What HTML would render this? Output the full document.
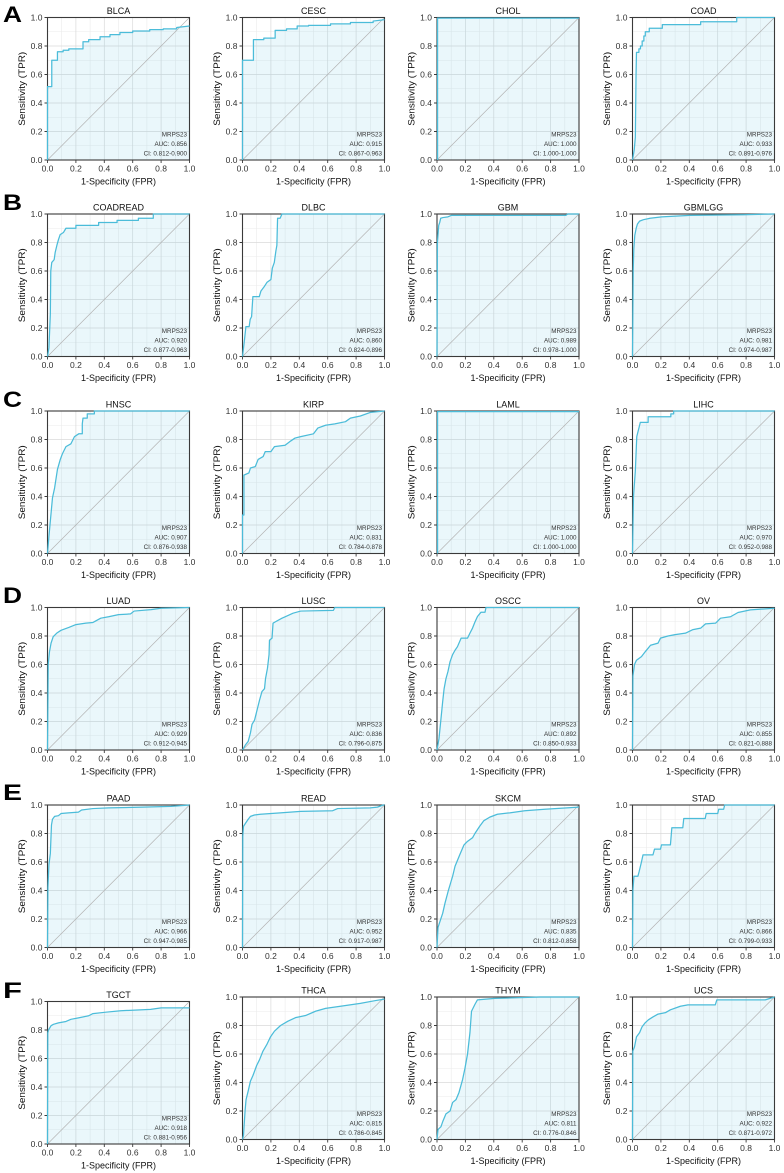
<!DOCTYPE html>
<html><head><meta charset="utf-8"><style>
html,body{margin:0;padding:0;background:#fff;}
svg{display:block;}
.t{font-family:"Liberation Sans",Arial,sans-serif;font-size:9px;fill:#111;}
.k{font-family:"Liberation Sans",Arial,sans-serif;font-size:8.5px;fill:#333;}
.a{font-family:"Liberation Sans",Arial,sans-serif;font-size:6.3px;fill:#333;text-anchor:end;}
.L{font-family:"Liberation Sans",Arial,sans-serif;font-size:22px;font-weight:bold;fill:#000;}
.f{fill:#5bc0de;fill-opacity:.13;stroke:none;}
.c{fill:none;stroke:#4bbcd9;stroke-width:1.25;stroke-linejoin:round;}
</style></head><body>
<svg width="784" height="1173" viewBox="0 0 784 1173" xmlns="http://www.w3.org/2000/svg">
<defs>
<g id="g">
<path d="M14.2,0V142.5M42.6,0V142.5M71,0V142.5M99.4,0V142.5M127.8,0V142.5M0,14.25H142M0,42.75H142M0,71.25H142M0,99.75H142M0,128.25H142" stroke="#ebebeb" stroke-width="0.6" fill="none"/>
<path d="M28.4,0V142.5M56.8,0V142.5M85.2,0V142.5M113.6,0V142.5M0,28.5H142M0,57H142M0,85.5H142M0,114H142" stroke="#dadada" stroke-width="0.7" fill="none"/>
</g>
<line id="d" x1="0" y1="142.5" x2="142" y2="0" stroke="#b3b3b3" stroke-width="0.7"/>
<g id="fr">
<rect x="0" y="0" width="142" height="142.5" fill="none" stroke="#3a3a3a" stroke-width="1.1"/>
<path d="M-3,0H0M-3,28.5H0M-3,57H0M-3,85.5H0M-3,114H0M-3,142.5H0M0,142.5V145.5M28.4,142.5V145.5M56.8,142.5V145.5M85.2,142.5V145.5M113.6,142.5V145.5M142,142.5V145.5" stroke="#3a3a3a" stroke-width="0.9" fill="none"/>
</g>
</defs>
<rect width="784" height="1173" fill="#fff"/>

<text class="L" x="3" y="22" textLength="19" lengthAdjust="spacingAndGlyphs">A</text>
<text class="L" x="3" y="210" textLength="19" lengthAdjust="spacingAndGlyphs">B</text>
<text class="L" x="3" y="407" textLength="19" lengthAdjust="spacingAndGlyphs">C</text>
<text class="L" x="3" y="603" textLength="19" lengthAdjust="spacingAndGlyphs">D</text>
<text class="L" x="3" y="800" textLength="19" lengthAdjust="spacingAndGlyphs">E</text>
<text class="L" x="3" y="998" textLength="19" lengthAdjust="spacingAndGlyphs">F</text>

<!-- ===== ROW A ===== -->
<g transform="translate(47.5,17.5)">
<use href="#g"/>
<g transform="translate(0,142.5) scale(142,-142.5)"><polygon class="f" points="0,0 0,0.515 0.03,0.515 0.03,0.70 0.07,0.70 0.07,0.76 0.11,0.76 0.11,0.77 0.15,0.77 0.15,0.78 0.25,0.78 0.25,0.83 0.29,0.83 0.29,0.845 0.37,0.845 0.37,0.865 0.44,0.865 0.44,0.88 0.51,0.88 0.51,0.895 0.6,0.895 0.6,0.905 0.72,0.905 0.72,0.915 0.815,0.915 0.815,0.92 0.91,0.92 0.91,0.93 1,0.94 1,0"/></g>
<use href="#d"/><use href="#fr"/>
<g transform="translate(0,142.5) scale(142,-142.5)"><polyline class="c" vector-effect="non-scaling-stroke" points="0,0 0,0.515 0.03,0.515 0.03,0.70 0.07,0.70 0.07,0.76 0.11,0.76 0.11,0.77 0.15,0.77 0.15,0.78 0.25,0.78 0.25,0.83 0.29,0.83 0.29,0.845 0.37,0.845 0.37,0.865 0.44,0.865 0.44,0.88 0.51,0.88 0.51,0.895 0.6,0.895 0.6,0.905 0.72,0.905 0.72,0.915 0.815,0.915 0.815,0.92 0.91,0.92 0.91,0.93 1,0.94"/></g>
<text class="t" x="71" y="-3.5" text-anchor="middle">BLCA</text>
<text class="k" text-anchor="end"><tspan x="-5" y="145.5">0.0</tspan><tspan x="-5" y="117">0.2</tspan><tspan x="-5" y="88.5">0.4</tspan><tspan x="-5" y="60">0.6</tspan><tspan x="-5" y="31.5">0.8</tspan><tspan x="-5" y="3">1.0</tspan></text>
<text class="k" text-anchor="middle" y="154"><tspan x="0">0.0</tspan><tspan x="28.4">0.2</tspan><tspan x="56.8">0.4</tspan><tspan x="85.2">0.6</tspan><tspan x="113.6">0.8</tspan><tspan x="142">1.0</tspan></text>
<text class="t" x="71" y="167" text-anchor="middle">1-Specificity (FPR)</text>
<text class="t" text-anchor="middle" transform="translate(-22.5,71.25) rotate(-90)" textLength="74" lengthAdjust="spacingAndGlyphs">Sensitivity (TPR)</text>
<text class="a" x="139.5" y="119.2">MRPS23</text><text class="a" x="139.5" y="128.5">AUC: 0.856</text><text class="a" x="139.5" y="137.9">CI: 0.812-0.900</text>
</g>

<g transform="translate(242.5,17.5)">
<use href="#g"/>
<g transform="translate(0,142.5) scale(142,-142.5)"><polygon class="f" points="0,0 0,0.70 0.077,0.70 0.077,0.845 0.15,0.845 0.15,0.855 0.23,0.855 0.23,0.91 0.31,0.91 0.31,0.92 0.385,0.92 0.385,0.94 0.465,0.94 0.465,0.945 0.62,0.945 0.62,0.955 0.76,0.955 0.76,0.965 0.92,0.965 0.92,0.975 1,0.985 1,0"/></g>
<use href="#d"/><use href="#fr"/>
<g transform="translate(0,142.5) scale(142,-142.5)"><polyline class="c" vector-effect="non-scaling-stroke" points="0,0 0,0.70 0.077,0.70 0.077,0.845 0.15,0.845 0.15,0.855 0.23,0.855 0.23,0.91 0.31,0.91 0.31,0.92 0.385,0.92 0.385,0.94 0.465,0.94 0.465,0.945 0.62,0.945 0.62,0.955 0.76,0.955 0.76,0.965 0.92,0.965 0.92,0.975 1,0.985"/></g>
<text class="t" x="71" y="-3.5" text-anchor="middle">CESC</text>
<text class="k" text-anchor="end"><tspan x="-5" y="145.5">0.0</tspan><tspan x="-5" y="117">0.2</tspan><tspan x="-5" y="88.5">0.4</tspan><tspan x="-5" y="60">0.6</tspan><tspan x="-5" y="31.5">0.8</tspan><tspan x="-5" y="3">1.0</tspan></text>
<text class="k" text-anchor="middle" y="154"><tspan x="0">0.0</tspan><tspan x="28.4">0.2</tspan><tspan x="56.8">0.4</tspan><tspan x="85.2">0.6</tspan><tspan x="113.6">0.8</tspan><tspan x="142">1.0</tspan></text>
<text class="t" x="71" y="167" text-anchor="middle">1-Specificity (FPR)</text>
<text class="t" text-anchor="middle" transform="translate(-22.5,71.25) rotate(-90)" textLength="74" lengthAdjust="spacingAndGlyphs">Sensitivity (TPR)</text>
<text class="a" x="139.5" y="119.2">MRPS23</text><text class="a" x="139.5" y="128.5">AUC: 0.915</text><text class="a" x="139.5" y="137.9">CI: 0.867-0.963</text>
</g>

<g transform="translate(437,17.5)">
<use href="#g"/>
<g transform="translate(0,142.5) scale(142,-142.5)"><polygon class="f" points="0,0 0,1 1,1 1,0"/></g>
<use href="#d"/><use href="#fr"/>
<g transform="translate(0,142.5) scale(142,-142.5)"><polyline class="c" vector-effect="non-scaling-stroke" points="0.004,0 0.004,0.996 1,0.996"/></g>
<text class="t" x="71" y="-3.5" text-anchor="middle">CHOL</text>
<text class="k" text-anchor="end"><tspan x="-5" y="145.5">0.0</tspan><tspan x="-5" y="117">0.2</tspan><tspan x="-5" y="88.5">0.4</tspan><tspan x="-5" y="60">0.6</tspan><tspan x="-5" y="31.5">0.8</tspan><tspan x="-5" y="3">1.0</tspan></text>
<text class="k" text-anchor="middle" y="154"><tspan x="0">0.0</tspan><tspan x="28.4">0.2</tspan><tspan x="56.8">0.4</tspan><tspan x="85.2">0.6</tspan><tspan x="113.6">0.8</tspan><tspan x="142">1.0</tspan></text>
<text class="t" x="71" y="167" text-anchor="middle">1-Specificity (FPR)</text>
<text class="t" text-anchor="middle" transform="translate(-22.5,71.25) rotate(-90)" textLength="74" lengthAdjust="spacingAndGlyphs">Sensitivity (TPR)</text>
<text class="a" x="139.5" y="119.2">MRPS23</text><text class="a" x="139.5" y="128.5">AUC: 1.000</text><text class="a" x="139.5" y="137.9">CI: 1.000-1.000</text>
</g>

<g transform="translate(632.5,17.5)">
<use href="#g"/>
<g transform="translate(0,142.5) scale(142,-142.5)"><polygon class="f" points="0,0 0.012,0.07 0.02,0.16 0.025,0.6 0.028,0.755 0.045,0.755 0.045,0.78 0.056,0.78 0.056,0.8 0.068,0.8 0.068,0.835 0.08,0.835 0.08,0.87 0.09,0.87 0.09,0.9 0.118,0.9 0.118,0.925 0.21,0.925 0.21,0.95 0.48,0.95 0.48,0.97 0.734,0.97 0.734,1 1,1 1,0"/></g>
<use href="#d"/><use href="#fr"/>
<g transform="translate(0,142.5) scale(142,-142.5)"><polyline class="c" vector-effect="non-scaling-stroke" points="0,0 0.012,0.07 0.02,0.16 0.025,0.6 0.028,0.755 0.045,0.755 0.045,0.78 0.056,0.78 0.056,0.8 0.068,0.8 0.068,0.835 0.08,0.835 0.08,0.87 0.09,0.87 0.09,0.9 0.118,0.9 0.118,0.925 0.21,0.925 0.21,0.95 0.48,0.95 0.48,0.97 0.734,0.97 0.734,1 1,1"/></g>
<text class="t" x="71" y="-3.5" text-anchor="middle">COAD</text>
<text class="k" text-anchor="end"><tspan x="-5" y="145.5">0.0</tspan><tspan x="-5" y="117">0.2</tspan><tspan x="-5" y="88.5">0.4</tspan><tspan x="-5" y="60">0.6</tspan><tspan x="-5" y="31.5">0.8</tspan><tspan x="-5" y="3">1.0</tspan></text>
<text class="k" text-anchor="middle" y="154"><tspan x="0">0.0</tspan><tspan x="28.4">0.2</tspan><tspan x="56.8">0.4</tspan><tspan x="85.2">0.6</tspan><tspan x="113.6">0.8</tspan><tspan x="142">1.0</tspan></text>
<text class="t" x="71" y="167" text-anchor="middle">1-Specificity (FPR)</text>
<text class="t" text-anchor="middle" transform="translate(-22.5,71.25) rotate(-90)" textLength="74" lengthAdjust="spacingAndGlyphs">Sensitivity (TPR)</text>
<text class="a" x="139.5" y="119.2">MRPS23</text><text class="a" x="139.5" y="128.5">AUC: 0.933</text><text class="a" x="139.5" y="137.9">CI: 0.891-0.976</text>
</g>

<!-- ===== ROW B ===== -->
<g transform="translate(47.5,214)">
<use href="#g"/>
<g transform="translate(0,142.5) scale(142,-142.5)"><polygon class="f" points="0,0 0.01,0.06 0.02,0.3 0.023,0.6 0.03,0.66 0.047,0.68 0.054,0.73 0.066,0.78 0.077,0.82 0.089,0.855 0.112,0.87 0.13,0.9 0.2,0.9 0.2,0.92 0.36,0.92 0.36,0.94 0.49,0.94 0.49,0.955 0.64,0.955 0.64,0.97 0.745,0.97 0.745,1 1,1 1,0"/></g>
<use href="#d"/><use href="#fr"/>
<g transform="translate(0,142.5) scale(142,-142.5)"><polyline class="c" vector-effect="non-scaling-stroke" points="0,0 0.01,0.06 0.02,0.3 0.023,0.6 0.03,0.66 0.047,0.68 0.054,0.73 0.066,0.78 0.077,0.82 0.089,0.855 0.112,0.87 0.13,0.9 0.2,0.9 0.2,0.92 0.36,0.92 0.36,0.94 0.49,0.94 0.49,0.955 0.64,0.955 0.64,0.97 0.745,0.97 0.745,1 1,1"/></g>
<text class="t" x="71" y="-3.5" text-anchor="middle">COADREAD</text>
<text class="k" text-anchor="end"><tspan x="-5" y="145.5">0.0</tspan><tspan x="-5" y="117">0.2</tspan><tspan x="-5" y="88.5">0.4</tspan><tspan x="-5" y="60">0.6</tspan><tspan x="-5" y="31.5">0.8</tspan><tspan x="-5" y="3">1.0</tspan></text>
<text class="k" text-anchor="middle" y="154"><tspan x="0">0.0</tspan><tspan x="28.4">0.2</tspan><tspan x="56.8">0.4</tspan><tspan x="85.2">0.6</tspan><tspan x="113.6">0.8</tspan><tspan x="142">1.0</tspan></text>
<text class="t" x="71" y="167" text-anchor="middle">1-Specificity (FPR)</text>
<text class="t" text-anchor="middle" transform="translate(-22.5,71.25) rotate(-90)" textLength="74" lengthAdjust="spacingAndGlyphs">Sensitivity (TPR)</text>
<text class="a" x="139.5" y="119.2">MRPS23</text><text class="a" x="139.5" y="128.5">AUC: 0.920</text><text class="a" x="139.5" y="137.9">CI: 0.877-0.963</text>
</g>

<g transform="translate(242.5,214)">
<use href="#g"/>
<g transform="translate(0,142.5) scale(142,-142.5)"><polygon class="f" points="0,0 0.012,0.1 0.024,0.21 0.047,0.21 0.054,0.26 0.064,0.28 0.073,0.42 0.118,0.42 0.13,0.46 0.153,0.49 0.172,0.52 0.2,0.54 0.21,0.62 0.224,0.66 0.235,0.74 0.242,0.78 0.247,0.97 0.265,0.97 0.278,1 1,1 1,0"/></g>
<use href="#d"/><use href="#fr"/>
<g transform="translate(0,142.5) scale(142,-142.5)"><polyline class="c" vector-effect="non-scaling-stroke" points="0,0 0.012,0.1 0.024,0.21 0.047,0.21 0.054,0.26 0.064,0.28 0.073,0.42 0.118,0.42 0.13,0.46 0.153,0.49 0.172,0.52 0.2,0.54 0.21,0.62 0.224,0.66 0.235,0.74 0.242,0.78 0.247,0.97 0.265,0.97 0.278,1 1,1"/></g>
<text class="t" x="71" y="-3.5" text-anchor="middle">DLBC</text>
<text class="k" text-anchor="end"><tspan x="-5" y="145.5">0.0</tspan><tspan x="-5" y="117">0.2</tspan><tspan x="-5" y="88.5">0.4</tspan><tspan x="-5" y="60">0.6</tspan><tspan x="-5" y="31.5">0.8</tspan><tspan x="-5" y="3">1.0</tspan></text>
<text class="k" text-anchor="middle" y="154"><tspan x="0">0.0</tspan><tspan x="28.4">0.2</tspan><tspan x="56.8">0.4</tspan><tspan x="85.2">0.6</tspan><tspan x="113.6">0.8</tspan><tspan x="142">1.0</tspan></text>
<text class="t" x="71" y="167" text-anchor="middle">1-Specificity (FPR)</text>
<text class="t" text-anchor="middle" transform="translate(-22.5,71.25) rotate(-90)" textLength="74" lengthAdjust="spacingAndGlyphs">Sensitivity (TPR)</text>
<text class="a" x="139.5" y="119.2">MRPS23</text><text class="a" x="139.5" y="128.5">AUC: 0.860</text><text class="a" x="139.5" y="137.9">CI: 0.824-0.896</text>
</g>

<g transform="translate(437,214)">
<use href="#g"/>
<g transform="translate(0,142.5) scale(142,-142.5)"><polygon class="f" points="0,0 0.003,0.8 0.012,0.92 0.019,0.94 0.026,0.97 0.042,0.975 0.077,0.98 0.1,0.99 0.907,0.99 0.92,1 1,1 1,0"/></g>
<use href="#d"/><use href="#fr"/>
<g transform="translate(0,142.5) scale(142,-142.5)"><polyline class="c" vector-effect="non-scaling-stroke" points="0,0 0.003,0.8 0.012,0.92 0.019,0.94 0.026,0.97 0.042,0.975 0.077,0.98 0.1,0.99 0.907,0.99 0.92,1 1,1"/></g>
<text class="t" x="71" y="-3.5" text-anchor="middle">GBM</text>
<text class="k" text-anchor="end"><tspan x="-5" y="145.5">0.0</tspan><tspan x="-5" y="117">0.2</tspan><tspan x="-5" y="88.5">0.4</tspan><tspan x="-5" y="60">0.6</tspan><tspan x="-5" y="31.5">0.8</tspan><tspan x="-5" y="3">1.0</tspan></text>
<text class="k" text-anchor="middle" y="154"><tspan x="0">0.0</tspan><tspan x="28.4">0.2</tspan><tspan x="56.8">0.4</tspan><tspan x="85.2">0.6</tspan><tspan x="113.6">0.8</tspan><tspan x="142">1.0</tspan></text>
<text class="t" x="71" y="167" text-anchor="middle">1-Specificity (FPR)</text>
<text class="t" text-anchor="middle" transform="translate(-22.5,71.25) rotate(-90)" textLength="74" lengthAdjust="spacingAndGlyphs">Sensitivity (TPR)</text>
<text class="a" x="139.5" y="119.2">MRPS23</text><text class="a" x="139.5" y="128.5">AUC: 0.989</text><text class="a" x="139.5" y="137.9">CI: 0.978-1.000</text>
</g>

<g transform="translate(632.5,214)">
<use href="#g"/>
<g transform="translate(0,142.5) scale(142,-142.5)"><polygon class="f" points="0,0 0.005,0.6 0.009,0.75 0.016,0.85 0.026,0.9 0.035,0.93 0.05,0.95 0.077,0.96 0.124,0.97 0.205,0.98 0.404,0.99 0.78,0.995 1,1 1,0"/></g>
<use href="#d"/><use href="#fr"/>
<g transform="translate(0,142.5) scale(142,-142.5)"><polyline class="c" vector-effect="non-scaling-stroke" points="0,0 0.005,0.6 0.009,0.75 0.016,0.85 0.026,0.9 0.035,0.93 0.05,0.95 0.077,0.96 0.124,0.97 0.205,0.98 0.404,0.99 0.78,0.995 1,1"/></g>
<text class="t" x="71" y="-3.5" text-anchor="middle">GBMLGG</text>
<text class="k" text-anchor="end"><tspan x="-5" y="145.5">0.0</tspan><tspan x="-5" y="117">0.2</tspan><tspan x="-5" y="88.5">0.4</tspan><tspan x="-5" y="60">0.6</tspan><tspan x="-5" y="31.5">0.8</tspan><tspan x="-5" y="3">1.0</tspan></text>
<text class="k" text-anchor="middle" y="154"><tspan x="0">0.0</tspan><tspan x="28.4">0.2</tspan><tspan x="56.8">0.4</tspan><tspan x="85.2">0.6</tspan><tspan x="113.6">0.8</tspan><tspan x="142">1.0</tspan></text>
<text class="t" x="71" y="167" text-anchor="middle">1-Specificity (FPR)</text>
<text class="t" text-anchor="middle" transform="translate(-22.5,71.25) rotate(-90)" textLength="74" lengthAdjust="spacingAndGlyphs">Sensitivity (TPR)</text>
<text class="a" x="139.5" y="119.2">MRPS23</text><text class="a" x="139.5" y="128.5">AUC: 0.981</text><text class="a" x="139.5" y="137.9">CI: 0.974-0.987</text>
</g>

<!-- ===== ROW C ===== -->
<g transform="translate(47.5,411)">
<use href="#g"/>
<g transform="translate(0,142.5) scale(142,-142.5)"><polygon class="f" points="0,0 0.01,0.12 0.035,0.39 0.05,0.46 0.07,0.59 0.09,0.66 0.105,0.70 0.13,0.75 0.165,0.77 0.19,0.82 0.22,0.84 0.245,0.84 0.245,0.91 0.25,0.95 0.28,0.95 0.28,0.98 0.33,0.98 0.33,1 1,1 1,0"/></g>
<use href="#d"/><use href="#fr"/>
<g transform="translate(0,142.5) scale(142,-142.5)"><polyline class="c" vector-effect="non-scaling-stroke" points="0,0 0.01,0.12 0.035,0.39 0.05,0.46 0.07,0.59 0.09,0.66 0.105,0.70 0.13,0.75 0.165,0.77 0.19,0.82 0.22,0.84 0.245,0.84 0.245,0.91 0.25,0.95 0.28,0.95 0.28,0.98 0.33,0.98 0.33,1 1,1"/></g>
<text class="t" x="71" y="-3.5" text-anchor="middle">HNSC</text>
<text class="k" text-anchor="end"><tspan x="-5" y="145.5">0.0</tspan><tspan x="-5" y="117">0.2</tspan><tspan x="-5" y="88.5">0.4</tspan><tspan x="-5" y="60">0.6</tspan><tspan x="-5" y="31.5">0.8</tspan><tspan x="-5" y="3">1.0</tspan></text>
<text class="k" text-anchor="middle" y="154"><tspan x="0">0.0</tspan><tspan x="28.4">0.2</tspan><tspan x="56.8">0.4</tspan><tspan x="85.2">0.6</tspan><tspan x="113.6">0.8</tspan><tspan x="142">1.0</tspan></text>
<text class="t" x="71" y="167" text-anchor="middle">1-Specificity (FPR)</text>
<text class="t" text-anchor="middle" transform="translate(-22.5,71.25) rotate(-90)" textLength="74" lengthAdjust="spacingAndGlyphs">Sensitivity (TPR)</text>
<text class="a" x="139.5" y="119.2">MRPS23</text><text class="a" x="139.5" y="128.5">AUC: 0.907</text><text class="a" x="139.5" y="137.9">CI: 0.876-0.938</text>
</g>

<g transform="translate(242.5,411)">
<use href="#g"/>
<g transform="translate(0,142.5) scale(142,-142.5)"><polygon class="f" points="0,0 0,0.27 0.01,0.27 0.01,0.55 0.045,0.565 0.056,0.6 0.09,0.61 0.11,0.66 0.145,0.68 0.16,0.715 0.2,0.715 0.225,0.75 0.3,0.76 0.34,0.79 0.37,0.81 0.41,0.82 0.5,0.84 0.53,0.88 0.585,0.9 0.65,0.91 0.725,0.925 0.76,0.95 0.83,0.965 0.9,0.99 1,1 1,0"/></g>
<use href="#d"/><use href="#fr"/>
<g transform="translate(0,142.5) scale(142,-142.5)"><polyline class="c" vector-effect="non-scaling-stroke" points="0,0 0,0.27 0.01,0.27 0.01,0.55 0.045,0.565 0.056,0.6 0.09,0.61 0.11,0.66 0.145,0.68 0.16,0.715 0.2,0.715 0.225,0.75 0.3,0.76 0.34,0.79 0.37,0.81 0.41,0.82 0.5,0.84 0.53,0.88 0.585,0.9 0.65,0.91 0.725,0.925 0.76,0.95 0.83,0.965 0.9,0.99 1,1"/></g>
<text class="t" x="71" y="-3.5" text-anchor="middle">KIRP</text>
<text class="k" text-anchor="end"><tspan x="-5" y="145.5">0.0</tspan><tspan x="-5" y="117">0.2</tspan><tspan x="-5" y="88.5">0.4</tspan><tspan x="-5" y="60">0.6</tspan><tspan x="-5" y="31.5">0.8</tspan><tspan x="-5" y="3">1.0</tspan></text>
<text class="k" text-anchor="middle" y="154"><tspan x="0">0.0</tspan><tspan x="28.4">0.2</tspan><tspan x="56.8">0.4</tspan><tspan x="85.2">0.6</tspan><tspan x="113.6">0.8</tspan><tspan x="142">1.0</tspan></text>
<text class="t" x="71" y="167" text-anchor="middle">1-Specificity (FPR)</text>
<text class="t" text-anchor="middle" transform="translate(-22.5,71.25) rotate(-90)" textLength="74" lengthAdjust="spacingAndGlyphs">Sensitivity (TPR)</text>
<text class="a" x="139.5" y="119.2">MRPS23</text><text class="a" x="139.5" y="128.5">AUC: 0.831</text><text class="a" x="139.5" y="137.9">CI: 0.784-0.878</text>
</g>

<g transform="translate(437,411)">
<use href="#g"/>
<g transform="translate(0,142.5) scale(142,-142.5)"><polygon class="f" points="0,0 0,1 1,1 1,0"/></g>
<use href="#d"/><use href="#fr"/>
<g transform="translate(0,142.5) scale(142,-142.5)"><polyline class="c" vector-effect="non-scaling-stroke" points="0.004,0 0.004,0.996 1,0.996"/></g>
<text class="t" x="71" y="-3.5" text-anchor="middle">LAML</text>
<text class="k" text-anchor="end"><tspan x="-5" y="145.5">0.0</tspan><tspan x="-5" y="117">0.2</tspan><tspan x="-5" y="88.5">0.4</tspan><tspan x="-5" y="60">0.6</tspan><tspan x="-5" y="31.5">0.8</tspan><tspan x="-5" y="3">1.0</tspan></text>
<text class="k" text-anchor="middle" y="154"><tspan x="0">0.0</tspan><tspan x="28.4">0.2</tspan><tspan x="56.8">0.4</tspan><tspan x="85.2">0.6</tspan><tspan x="113.6">0.8</tspan><tspan x="142">1.0</tspan></text>
<text class="t" x="71" y="167" text-anchor="middle">1-Specificity (FPR)</text>
<text class="t" text-anchor="middle" transform="translate(-22.5,71.25) rotate(-90)" textLength="74" lengthAdjust="spacingAndGlyphs">Sensitivity (TPR)</text>
<text class="a" x="139.5" y="119.2">MRPS23</text><text class="a" x="139.5" y="128.5">AUC: 1.000</text><text class="a" x="139.5" y="137.9">CI: 1.000-1.000</text>
</g>

<g transform="translate(632.5,411)">
<use href="#g"/>
<g transform="translate(0,142.5) scale(142,-142.5)"><polygon class="f" points="0,0 0.007,0.4 0.02,0.58 0.03,0.82 0.05,0.9 0.055,0.92 0.11,0.92 0.11,0.96 0.27,0.96 0.27,0.98 0.29,0.98 0.29,1 1,1 1,0"/></g>
<use href="#d"/><use href="#fr"/>
<g transform="translate(0,142.5) scale(142,-142.5)"><polyline class="c" vector-effect="non-scaling-stroke" points="0,0 0.007,0.4 0.02,0.58 0.03,0.82 0.05,0.9 0.055,0.92 0.11,0.92 0.11,0.96 0.27,0.96 0.27,0.98 0.29,0.98 0.29,1 1,1"/></g>
<text class="t" x="71" y="-3.5" text-anchor="middle">LIHC</text>
<text class="k" text-anchor="end"><tspan x="-5" y="145.5">0.0</tspan><tspan x="-5" y="117">0.2</tspan><tspan x="-5" y="88.5">0.4</tspan><tspan x="-5" y="60">0.6</tspan><tspan x="-5" y="31.5">0.8</tspan><tspan x="-5" y="3">1.0</tspan></text>
<text class="k" text-anchor="middle" y="154"><tspan x="0">0.0</tspan><tspan x="28.4">0.2</tspan><tspan x="56.8">0.4</tspan><tspan x="85.2">0.6</tspan><tspan x="113.6">0.8</tspan><tspan x="142">1.0</tspan></text>
<text class="t" x="71" y="167" text-anchor="middle">1-Specificity (FPR)</text>
<text class="t" text-anchor="middle" transform="translate(-22.5,71.25) rotate(-90)" textLength="74" lengthAdjust="spacingAndGlyphs">Sensitivity (TPR)</text>
<text class="a" x="139.5" y="119.2">MRPS23</text><text class="a" x="139.5" y="128.5">AUC: 0.970</text><text class="a" x="139.5" y="137.9">CI: 0.952-0.988</text>
</g>

<!-- ===== ROW D ===== -->
<g transform="translate(47.5,607.5)">
<use href="#g"/>
<g transform="translate(0,142.5) scale(142,-142.5)"><polygon class="f" points="0,0 0.005,0.6 0.014,0.69 0.025,0.75 0.04,0.795 0.065,0.82 0.095,0.84 0.15,0.86 0.2,0.88 0.27,0.89 0.32,0.895 0.375,0.925 0.43,0.935 0.5,0.95 0.585,0.955 0.61,0.975 0.73,0.985 0.8,0.995 1,1 1,0"/></g>
<use href="#d"/><use href="#fr"/>
<g transform="translate(0,142.5) scale(142,-142.5)"><polyline class="c" vector-effect="non-scaling-stroke" points="0,0 0.005,0.6 0.014,0.69 0.025,0.75 0.04,0.795 0.065,0.82 0.095,0.84 0.15,0.86 0.2,0.88 0.27,0.89 0.32,0.895 0.375,0.925 0.43,0.935 0.5,0.95 0.585,0.955 0.61,0.975 0.73,0.985 0.8,0.995 1,1"/></g>
<text class="t" x="71" y="-3.5" text-anchor="middle">LUAD</text>
<text class="k" text-anchor="end"><tspan x="-5" y="145.5">0.0</tspan><tspan x="-5" y="117">0.2</tspan><tspan x="-5" y="88.5">0.4</tspan><tspan x="-5" y="60">0.6</tspan><tspan x="-5" y="31.5">0.8</tspan><tspan x="-5" y="3">1.0</tspan></text>
<text class="k" text-anchor="middle" y="154"><tspan x="0">0.0</tspan><tspan x="28.4">0.2</tspan><tspan x="56.8">0.4</tspan><tspan x="85.2">0.6</tspan><tspan x="113.6">0.8</tspan><tspan x="142">1.0</tspan></text>
<text class="t" x="71" y="167" text-anchor="middle">1-Specificity (FPR)</text>
<text class="t" text-anchor="middle" transform="translate(-22.5,71.25) rotate(-90)" textLength="74" lengthAdjust="spacingAndGlyphs">Sensitivity (TPR)</text>
<text class="a" x="139.5" y="119.2">MRPS23</text><text class="a" x="139.5" y="128.5">AUC: 0.929</text><text class="a" x="139.5" y="137.9">CI: 0.912-0.945</text>
</g>

<g transform="translate(242.5,607.5)">
<use href="#g"/>
<g transform="translate(0,142.5) scale(142,-142.5)"><polygon class="f" points="0,0 0.02,0.035 0.04,0.06 0.056,0.12 0.067,0.18 0.085,0.21 0.1,0.27 0.12,0.35 0.137,0.41 0.155,0.43 0.162,0.5 0.176,0.575 0.187,0.67 0.19,0.77 0.208,0.785 0.215,0.89 0.232,0.9 0.278,0.925 0.3,0.935 0.356,0.96 0.41,0.975 0.64,0.98 0.65,1 1,1 1,0"/></g>
<use href="#d"/><use href="#fr"/>
<g transform="translate(0,142.5) scale(142,-142.5)"><polyline class="c" vector-effect="non-scaling-stroke" points="0,0 0.02,0.035 0.04,0.06 0.056,0.12 0.067,0.18 0.085,0.21 0.1,0.27 0.12,0.35 0.137,0.41 0.155,0.43 0.162,0.5 0.176,0.575 0.187,0.67 0.19,0.77 0.208,0.785 0.215,0.89 0.232,0.9 0.278,0.925 0.3,0.935 0.356,0.96 0.41,0.975 0.64,0.98 0.65,1 1,1"/></g>
<text class="t" x="71" y="-3.5" text-anchor="middle">LUSC</text>
<text class="k" text-anchor="end"><tspan x="-5" y="145.5">0.0</tspan><tspan x="-5" y="117">0.2</tspan><tspan x="-5" y="88.5">0.4</tspan><tspan x="-5" y="60">0.6</tspan><tspan x="-5" y="31.5">0.8</tspan><tspan x="-5" y="3">1.0</tspan></text>
<text class="k" text-anchor="middle" y="154"><tspan x="0">0.0</tspan><tspan x="28.4">0.2</tspan><tspan x="56.8">0.4</tspan><tspan x="85.2">0.6</tspan><tspan x="113.6">0.8</tspan><tspan x="142">1.0</tspan></text>
<text class="t" x="71" y="167" text-anchor="middle">1-Specificity (FPR)</text>
<text class="t" text-anchor="middle" transform="translate(-22.5,71.25) rotate(-90)" textLength="74" lengthAdjust="spacingAndGlyphs">Sensitivity (TPR)</text>
<text class="a" x="139.5" y="119.2">MRPS23</text><text class="a" x="139.5" y="128.5">AUC: 0.836</text><text class="a" x="139.5" y="137.9">CI: 0.796-0.875</text>
</g>

<g transform="translate(437,607.5)">
<use href="#g"/>
<g transform="translate(0,142.5) scale(142,-142.5)"><polygon class="f" points="0,0 0.014,0.08 0.028,0.22 0.04,0.34 0.05,0.43 0.063,0.5 0.077,0.55 0.092,0.62 0.11,0.67 0.127,0.70 0.144,0.725 0.17,0.785 0.215,0.785 0.232,0.82 0.25,0.855 0.268,0.9 0.285,0.937 0.31,0.967 0.338,0.967 0.345,1 1,1 1,0"/></g>
<use href="#d"/><use href="#fr"/>
<g transform="translate(0,142.5) scale(142,-142.5)"><polyline class="c" vector-effect="non-scaling-stroke" points="0,0 0.014,0.08 0.028,0.22 0.04,0.34 0.05,0.43 0.063,0.5 0.077,0.55 0.092,0.62 0.11,0.67 0.127,0.70 0.144,0.725 0.17,0.785 0.215,0.785 0.232,0.82 0.25,0.855 0.268,0.9 0.285,0.937 0.31,0.967 0.338,0.967 0.345,1 1,1"/></g>
<text class="t" x="71" y="-3.5" text-anchor="middle">OSCC</text>
<text class="k" text-anchor="end"><tspan x="-5" y="145.5">0.0</tspan><tspan x="-5" y="117">0.2</tspan><tspan x="-5" y="88.5">0.4</tspan><tspan x="-5" y="60">0.6</tspan><tspan x="-5" y="31.5">0.8</tspan><tspan x="-5" y="3">1.0</tspan></text>
<text class="k" text-anchor="middle" y="154"><tspan x="0">0.0</tspan><tspan x="28.4">0.2</tspan><tspan x="56.8">0.4</tspan><tspan x="85.2">0.6</tspan><tspan x="113.6">0.8</tspan><tspan x="142">1.0</tspan></text>
<text class="t" x="71" y="167" text-anchor="middle">1-Specificity (FPR)</text>
<text class="t" text-anchor="middle" transform="translate(-22.5,71.25) rotate(-90)" textLength="74" lengthAdjust="spacingAndGlyphs">Sensitivity (TPR)</text>
<text class="a" x="139.5" y="119.2">MRPS23</text><text class="a" x="139.5" y="128.5">AUC: 0.892</text><text class="a" x="139.5" y="137.9">CI: 0.850-0.933</text>
</g>

<g transform="translate(632.5,607.5)">
<use href="#g"/>
<g transform="translate(0,142.5) scale(142,-142.5)"><polygon class="f" points="0,0 0.003,0.52 0.014,0.6 0.028,0.63 0.063,0.655 0.09,0.69 0.127,0.735 0.18,0.75 0.197,0.785 0.25,0.8 0.3,0.81 0.373,0.82 0.426,0.845 0.48,0.855 0.514,0.885 0.585,0.89 0.62,0.925 0.69,0.935 0.743,0.965 0.83,0.983 1,0.995 1,0"/></g>
<use href="#d"/><use href="#fr"/>
<g transform="translate(0,142.5) scale(142,-142.5)"><polyline class="c" vector-effect="non-scaling-stroke" points="0,0 0.003,0.52 0.014,0.6 0.028,0.63 0.063,0.655 0.09,0.69 0.127,0.735 0.18,0.75 0.197,0.785 0.25,0.8 0.3,0.81 0.373,0.82 0.426,0.845 0.48,0.855 0.514,0.885 0.585,0.89 0.62,0.925 0.69,0.935 0.743,0.965 0.83,0.983 1,0.995"/></g>
<text class="t" x="71" y="-3.5" text-anchor="middle">OV</text>
<text class="k" text-anchor="end"><tspan x="-5" y="145.5">0.0</tspan><tspan x="-5" y="117">0.2</tspan><tspan x="-5" y="88.5">0.4</tspan><tspan x="-5" y="60">0.6</tspan><tspan x="-5" y="31.5">0.8</tspan><tspan x="-5" y="3">1.0</tspan></text>
<text class="k" text-anchor="middle" y="154"><tspan x="0">0.0</tspan><tspan x="28.4">0.2</tspan><tspan x="56.8">0.4</tspan><tspan x="85.2">0.6</tspan><tspan x="113.6">0.8</tspan><tspan x="142">1.0</tspan></text>
<text class="t" x="71" y="167" text-anchor="middle">1-Specificity (FPR)</text>
<text class="t" text-anchor="middle" transform="translate(-22.5,71.25) rotate(-90)" textLength="74" lengthAdjust="spacingAndGlyphs">Sensitivity (TPR)</text>
<text class="a" x="139.5" y="119.2">MRPS23</text><text class="a" x="139.5" y="128.5">AUC: 0.855</text><text class="a" x="139.5" y="137.9">CI: 0.821-0.888</text>
</g>

<!-- ===== ROW E ===== -->
<g transform="translate(47.5,805)">
<use href="#g"/>
<g transform="translate(0,142.5) scale(142,-142.5)"><polygon class="f" points="0,0 0.003,0.42 0.01,0.58 0.02,0.66 0.028,0.86 0.035,0.9 0.05,0.92 0.077,0.925 0.095,0.94 0.147,0.945 0.218,0.95 0.24,0.965 0.32,0.975 0.43,0.98 0.67,0.985 0.87,0.99 1,1 1,0"/></g>
<use href="#d"/><use href="#fr"/>
<g transform="translate(0,142.5) scale(142,-142.5)"><polyline class="c" vector-effect="non-scaling-stroke" points="0,0 0.003,0.42 0.01,0.58 0.02,0.66 0.028,0.86 0.035,0.9 0.05,0.92 0.077,0.925 0.095,0.94 0.147,0.945 0.218,0.95 0.24,0.965 0.32,0.975 0.43,0.98 0.67,0.985 0.87,0.99 1,1"/></g>
<text class="t" x="71" y="-3.5" text-anchor="middle">PAAD</text>
<text class="k" text-anchor="end"><tspan x="-5" y="145.5">0.0</tspan><tspan x="-5" y="117">0.2</tspan><tspan x="-5" y="88.5">0.4</tspan><tspan x="-5" y="60">0.6</tspan><tspan x="-5" y="31.5">0.8</tspan><tspan x="-5" y="3">1.0</tspan></text>
<text class="k" text-anchor="middle" y="154"><tspan x="0">0.0</tspan><tspan x="28.4">0.2</tspan><tspan x="56.8">0.4</tspan><tspan x="85.2">0.6</tspan><tspan x="113.6">0.8</tspan><tspan x="142">1.0</tspan></text>
<text class="t" x="71" y="167" text-anchor="middle">1-Specificity (FPR)</text>
<text class="t" text-anchor="middle" transform="translate(-22.5,71.25) rotate(-90)" textLength="74" lengthAdjust="spacingAndGlyphs">Sensitivity (TPR)</text>
<text class="a" x="139.5" y="119.2">MRPS23</text><text class="a" x="139.5" y="128.5">AUC: 0.966</text><text class="a" x="139.5" y="137.9">CI: 0.947-0.985</text>
</g>

<g transform="translate(242.5,805)">
<use href="#g"/>
<g transform="translate(0,142.5) scale(142,-142.5)"><polygon class="f" points="0,0 0.002,0.78 0.007,0.85 0.02,0.87 0.04,0.9 0.056,0.92 0.084,0.93 0.126,0.935 0.266,0.945 0.41,0.955 0.635,0.96 0.67,0.975 0.9,0.98 0.95,0.985 0.99,1 1,1 1,0"/></g>
<use href="#d"/><use href="#fr"/>
<g transform="translate(0,142.5) scale(142,-142.5)"><polyline class="c" vector-effect="non-scaling-stroke" points="0,0 0.002,0.78 0.007,0.85 0.02,0.87 0.04,0.9 0.056,0.92 0.084,0.93 0.126,0.935 0.266,0.945 0.41,0.955 0.635,0.96 0.67,0.975 0.9,0.98 0.95,0.985 0.99,1 1,1"/></g>
<text class="t" x="71" y="-3.5" text-anchor="middle">READ</text>
<text class="k" text-anchor="end"><tspan x="-5" y="145.5">0.0</tspan><tspan x="-5" y="117">0.2</tspan><tspan x="-5" y="88.5">0.4</tspan><tspan x="-5" y="60">0.6</tspan><tspan x="-5" y="31.5">0.8</tspan><tspan x="-5" y="3">1.0</tspan></text>
<text class="k" text-anchor="middle" y="154"><tspan x="0">0.0</tspan><tspan x="28.4">0.2</tspan><tspan x="56.8">0.4</tspan><tspan x="85.2">0.6</tspan><tspan x="113.6">0.8</tspan><tspan x="142">1.0</tspan></text>
<text class="t" x="71" y="167" text-anchor="middle">1-Specificity (FPR)</text>
<text class="t" text-anchor="middle" transform="translate(-22.5,71.25) rotate(-90)" textLength="74" lengthAdjust="spacingAndGlyphs">Sensitivity (TPR)</text>
<text class="a" x="139.5" y="119.2">MRPS23</text><text class="a" x="139.5" y="128.5">AUC: 0.952</text><text class="a" x="139.5" y="137.9">CI: 0.917-0.987</text>
</g>

<g transform="translate(437,805)">
<use href="#g"/>
<g transform="translate(0,142.5) scale(142,-142.5)"><polygon class="f" points="0,0 0.007,0.14 0.02,0.18 0.04,0.24 0.056,0.31 0.08,0.4 0.11,0.5 0.127,0.57 0.16,0.65 0.19,0.72 0.215,0.745 0.25,0.77 0.267,0.8 0.3,0.85 0.33,0.89 0.372,0.915 0.425,0.935 0.512,0.945 0.618,0.96 0.758,0.97 1,0.985 1,0"/></g>
<use href="#d"/><use href="#fr"/>
<g transform="translate(0,142.5) scale(142,-142.5)"><polyline class="c" vector-effect="non-scaling-stroke" points="0,0 0.007,0.14 0.02,0.18 0.04,0.24 0.056,0.31 0.08,0.4 0.11,0.5 0.127,0.57 0.16,0.65 0.19,0.72 0.215,0.745 0.25,0.77 0.267,0.8 0.3,0.85 0.33,0.89 0.372,0.915 0.425,0.935 0.512,0.945 0.618,0.96 0.758,0.97 1,0.985"/></g>
<text class="t" x="71" y="-3.5" text-anchor="middle">SKCM</text>
<text class="k" text-anchor="end"><tspan x="-5" y="145.5">0.0</tspan><tspan x="-5" y="117">0.2</tspan><tspan x="-5" y="88.5">0.4</tspan><tspan x="-5" y="60">0.6</tspan><tspan x="-5" y="31.5">0.8</tspan><tspan x="-5" y="3">1.0</tspan></text>
<text class="k" text-anchor="middle" y="154"><tspan x="0">0.0</tspan><tspan x="28.4">0.2</tspan><tspan x="56.8">0.4</tspan><tspan x="85.2">0.6</tspan><tspan x="113.6">0.8</tspan><tspan x="142">1.0</tspan></text>
<text class="t" x="71" y="167" text-anchor="middle">1-Specificity (FPR)</text>
<text class="t" text-anchor="middle" transform="translate(-22.5,71.25) rotate(-90)" textLength="74" lengthAdjust="spacingAndGlyphs">Sensitivity (TPR)</text>
<text class="a" x="139.5" y="119.2">MRPS23</text><text class="a" x="139.5" y="128.5">AUC: 0.835</text><text class="a" x="139.5" y="137.9">CI: 0.812-0.858</text>
</g>

<g transform="translate(632.5,805)">
<use href="#g"/>
<g transform="translate(0,142.5) scale(142,-142.5)"><polygon class="f" points="0,0 0.003,0.4 0.01,0.5 0.038,0.5 0.046,0.53 0.063,0.6 0.074,0.65 0.144,0.65 0.155,0.69 0.197,0.69 0.204,0.72 0.267,0.72 0.277,0.84 0.354,0.84 0.361,0.905 0.512,0.905 0.519,0.94 0.6,0.94 0.607,0.97 0.642,0.97 0.649,1 1,1 1,0"/></g>
<use href="#d"/><use href="#fr"/>
<g transform="translate(0,142.5) scale(142,-142.5)"><polyline class="c" vector-effect="non-scaling-stroke" points="0,0 0.003,0.4 0.01,0.5 0.038,0.5 0.046,0.53 0.063,0.6 0.074,0.65 0.144,0.65 0.155,0.69 0.197,0.69 0.204,0.72 0.267,0.72 0.277,0.84 0.354,0.84 0.361,0.905 0.512,0.905 0.519,0.94 0.6,0.94 0.607,0.97 0.642,0.97 0.649,1 1,1"/></g>
<text class="t" x="71" y="-3.5" text-anchor="middle">STAD</text>
<text class="k" text-anchor="end"><tspan x="-5" y="145.5">0.0</tspan><tspan x="-5" y="117">0.2</tspan><tspan x="-5" y="88.5">0.4</tspan><tspan x="-5" y="60">0.6</tspan><tspan x="-5" y="31.5">0.8</tspan><tspan x="-5" y="3">1.0</tspan></text>
<text class="k" text-anchor="middle" y="154"><tspan x="0">0.0</tspan><tspan x="28.4">0.2</tspan><tspan x="56.8">0.4</tspan><tspan x="85.2">0.6</tspan><tspan x="113.6">0.8</tspan><tspan x="142">1.0</tspan></text>
<text class="t" x="71" y="167" text-anchor="middle">1-Specificity (FPR)</text>
<text class="t" text-anchor="middle" transform="translate(-22.5,71.25) rotate(-90)" textLength="74" lengthAdjust="spacingAndGlyphs">Sensitivity (TPR)</text>
<text class="a" x="139.5" y="119.2">MRPS23</text><text class="a" x="139.5" y="128.5">AUC: 0.866</text><text class="a" x="139.5" y="137.9">CI: 0.799-0.933</text>
</g>

<!-- ===== ROW F ===== -->
<g transform="translate(47.5,1001.5)">
<use href="#g"/>
<g transform="translate(0,142.5) scale(142,-142.5)"><polygon class="f" points="0,0 0.002,0.78 0.007,0.8 0.025,0.83 0.042,0.84 0.077,0.85 0.13,0.86 0.165,0.875 0.218,0.885 0.29,0.9 0.32,0.915 0.41,0.925 0.516,0.935 0.726,0.945 0.8,0.955 1,0.955 1,0"/></g>
<use href="#d"/><use href="#fr"/>
<g transform="translate(0,142.5) scale(142,-142.5)"><polyline class="c" vector-effect="non-scaling-stroke" points="0,0 0.002,0.78 0.007,0.8 0.025,0.83 0.042,0.84 0.077,0.85 0.13,0.86 0.165,0.875 0.218,0.885 0.29,0.9 0.32,0.915 0.41,0.925 0.516,0.935 0.726,0.945 0.8,0.955 1,0.955"/></g>
<text class="t" x="71" y="-3.5" text-anchor="middle">TGCT</text>
<text class="k" text-anchor="end"><tspan x="-5" y="145.5">0.0</tspan><tspan x="-5" y="117">0.2</tspan><tspan x="-5" y="88.5">0.4</tspan><tspan x="-5" y="60">0.6</tspan><tspan x="-5" y="31.5">0.8</tspan><tspan x="-5" y="3">1.0</tspan></text>
<text class="k" text-anchor="middle" y="154"><tspan x="0">0.0</tspan><tspan x="28.4">0.2</tspan><tspan x="56.8">0.4</tspan><tspan x="85.2">0.6</tspan><tspan x="113.6">0.8</tspan><tspan x="142">1.0</tspan></text>
<text class="t" x="71" y="167" text-anchor="middle">1-Specificity (FPR)</text>
<text class="t" text-anchor="middle" transform="translate(-22.5,71.25) rotate(-90)" textLength="74" lengthAdjust="spacingAndGlyphs">Sensitivity (TPR)</text>
<text class="a" x="139.5" y="119.2">MRPS23</text><text class="a" x="139.5" y="128.5">AUC: 0.918</text><text class="a" x="139.5" y="137.9">CI: 0.881-0.956</text>
</g>

<g transform="translate(242.5,997)">
<use href="#g"/>
<g transform="translate(0,142.5) scale(142,-142.5)"><polygon class="f" points="0,0 0.007,0.03 0.018,0.2 0.025,0.28 0.04,0.34 0.056,0.41 0.074,0.45 0.1,0.52 0.12,0.56 0.144,0.62 0.173,0.67 0.197,0.72 0.225,0.76 0.268,0.8 0.32,0.83 0.373,0.855 0.444,0.87 0.514,0.9 0.585,0.92 0.69,0.935 0.83,0.955 0.937,0.975 1,0.985 1,0"/></g>
<use href="#d"/><use href="#fr"/>
<g transform="translate(0,142.5) scale(142,-142.5)"><polyline class="c" vector-effect="non-scaling-stroke" points="0,0 0.007,0.03 0.018,0.2 0.025,0.28 0.04,0.34 0.056,0.41 0.074,0.45 0.1,0.52 0.12,0.56 0.144,0.62 0.173,0.67 0.197,0.72 0.225,0.76 0.268,0.8 0.32,0.83 0.373,0.855 0.444,0.87 0.514,0.9 0.585,0.92 0.69,0.935 0.83,0.955 0.937,0.975 1,0.985"/></g>
<text class="t" x="71" y="-3.5" text-anchor="middle">THCA</text>
<text class="k" text-anchor="end"><tspan x="-5" y="145.5">0.0</tspan><tspan x="-5" y="117">0.2</tspan><tspan x="-5" y="88.5">0.4</tspan><tspan x="-5" y="60">0.6</tspan><tspan x="-5" y="31.5">0.8</tspan><tspan x="-5" y="3">1.0</tspan></text>
<text class="k" text-anchor="middle" y="154"><tspan x="0">0.0</tspan><tspan x="28.4">0.2</tspan><tspan x="56.8">0.4</tspan><tspan x="85.2">0.6</tspan><tspan x="113.6">0.8</tspan><tspan x="142">1.0</tspan></text>
<text class="t" x="71" y="167" text-anchor="middle">1-Specificity (FPR)</text>
<text class="t" text-anchor="middle" transform="translate(-22.5,71.25) rotate(-90)" textLength="74" lengthAdjust="spacingAndGlyphs">Sensitivity (TPR)</text>
<text class="a" x="139.5" y="119.2">MRPS23</text><text class="a" x="139.5" y="128.5">AUC: 0.815</text><text class="a" x="139.5" y="137.9">CI: 0.786-0.845</text>
</g>

<g transform="translate(437,997)">
<use href="#g"/>
<g transform="translate(0,142.5) scale(142,-142.5)"><polygon class="f" points="0,0 0.007,0.07 0.028,0.09 0.042,0.13 0.063,0.18 0.092,0.2 0.11,0.26 0.134,0.28 0.155,0.33 0.18,0.42 0.197,0.5 0.215,0.6 0.232,0.75 0.243,0.9 0.268,0.95 0.285,0.98 0.408,0.99 0.725,1 1,1 1,0"/></g>
<use href="#d"/><use href="#fr"/>
<g transform="translate(0,142.5) scale(142,-142.5)"><polyline class="c" vector-effect="non-scaling-stroke" points="0,0 0.007,0.07 0.028,0.09 0.042,0.13 0.063,0.18 0.092,0.2 0.11,0.26 0.134,0.28 0.155,0.33 0.18,0.42 0.197,0.5 0.215,0.6 0.232,0.75 0.243,0.9 0.268,0.95 0.285,0.98 0.408,0.99 0.725,1 1,1"/></g>
<text class="t" x="71" y="-3.5" text-anchor="middle">THYM</text>
<text class="k" text-anchor="end"><tspan x="-5" y="145.5">0.0</tspan><tspan x="-5" y="117">0.2</tspan><tspan x="-5" y="88.5">0.4</tspan><tspan x="-5" y="60">0.6</tspan><tspan x="-5" y="31.5">0.8</tspan><tspan x="-5" y="3">1.0</tspan></text>
<text class="k" text-anchor="middle" y="154"><tspan x="0">0.0</tspan><tspan x="28.4">0.2</tspan><tspan x="56.8">0.4</tspan><tspan x="85.2">0.6</tspan><tspan x="113.6">0.8</tspan><tspan x="142">1.0</tspan></text>
<text class="t" x="71" y="167" text-anchor="middle">1-Specificity (FPR)</text>
<text class="t" text-anchor="middle" transform="translate(-22.5,71.25) rotate(-90)" textLength="74" lengthAdjust="spacingAndGlyphs">Sensitivity (TPR)</text>
<text class="a" x="139.5" y="119.2">MRPS23</text><text class="a" x="139.5" y="128.5">AUC: 0.811</text><text class="a" x="139.5" y="137.9">CI: 0.776-0.846</text>
</g>

<g transform="translate(632.5,997)">
<use href="#g"/>
<g transform="translate(0,142.5) scale(142,-142.5)"><polygon class="f" points="0,0 0.002,0.62 0.014,0.65 0.028,0.72 0.05,0.75 0.067,0.79 0.09,0.82 0.112,0.84 0.144,0.86 0.18,0.88 0.232,0.89 0.267,0.91 0.337,0.935 0.39,0.945 0.583,0.945 0.594,0.98 0.935,0.98 1,1 1,0"/></g>
<use href="#d"/><use href="#fr"/>
<g transform="translate(0,142.5) scale(142,-142.5)"><polyline class="c" vector-effect="non-scaling-stroke" points="0,0 0.002,0.62 0.014,0.65 0.028,0.72 0.05,0.75 0.067,0.79 0.09,0.82 0.112,0.84 0.144,0.86 0.18,0.88 0.232,0.89 0.267,0.91 0.337,0.935 0.39,0.945 0.583,0.945 0.594,0.98 0.935,0.98 1,1"/></g>
<text class="t" x="71" y="-3.5" text-anchor="middle">UCS</text>
<text class="k" text-anchor="end"><tspan x="-5" y="145.5">0.0</tspan><tspan x="-5" y="117">0.2</tspan><tspan x="-5" y="88.5">0.4</tspan><tspan x="-5" y="60">0.6</tspan><tspan x="-5" y="31.5">0.8</tspan><tspan x="-5" y="3">1.0</tspan></text>
<text class="k" text-anchor="middle" y="154"><tspan x="0">0.0</tspan><tspan x="28.4">0.2</tspan><tspan x="56.8">0.4</tspan><tspan x="85.2">0.6</tspan><tspan x="113.6">0.8</tspan><tspan x="142">1.0</tspan></text>
<text class="t" x="71" y="167" text-anchor="middle">1-Specificity (FPR)</text>
<text class="t" text-anchor="middle" transform="translate(-22.5,71.25) rotate(-90)" textLength="74" lengthAdjust="spacingAndGlyphs">Sensitivity (TPR)</text>
<text class="a" x="139.5" y="119.2">MRPS23</text><text class="a" x="139.5" y="128.5">AUC: 0.922</text><text class="a" x="139.5" y="137.9">CI: 0.871-0.972</text>
</g>

</svg>
</body></html>
